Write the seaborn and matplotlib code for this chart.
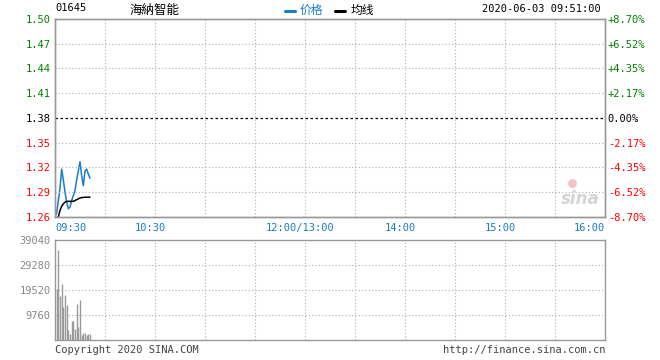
import numpy as np
import seaborn as sns
import matplotlib.pyplot as plt
from matplotlib import transforms

# data (minute index from 09:30)
prev_close = 1.38
price = [1.260, 1.265, 1.280, 1.295, 1.318, 1.305, 1.290, 1.278, 1.270, 1.272, 1.280,
         1.286, 1.292, 1.305, 1.316, 1.327, 1.310, 1.298, 1.316, 1.318, 1.312, 1.307]
avg_price = [1.259, 1.259, 1.260, 1.268, 1.273, 1.276, 1.278, 1.279, 1.279, 1.279, 1.279,
             1.279, 1.280, 1.281, 1.282, 1.283, 1.2835, 1.2837, 1.284, 1.284, 1.284, 1.284]
volume = [19900, 35100, 17200, 21700, 12900, 17600, 13700, 3800, 2300, 7400, 7400,
          4300, 14000, 5200, 15600, 2000, 2700, 2700, 2000, 2300, 2300]
price_ticks = [1.50, 1.47, 1.44, 1.41, 1.38, 1.35, 1.32, 1.29, 1.26]
pct_labels = ['+8.70%', '+6.52%', '+4.35%', '+2.17%', '0.00%', '-2.17%', '-4.35%', '-6.52%', '-8.70%']
vol_ticks = [39040, 29280, 19520, 9760]
time_labels = ['09:30', '10:30', '12:00/13:00', '14:00', '15:00', '16:00']
time_pos = [0, 60, 150, 210, 270, 330]
total_minutes = 330

sns.set_theme(style='white')
plt.rcParams['font.family'] = ['DejaVu Sans Mono']
cjk = ['Noto Sans CJK SC', 'DejaVu Sans']

BLUE = '#1a7cc8'
GREEN = '#008000'
RED = '#ff0000'
GRID = '#b0b0b0'
BORDER = '#999999'
FS = 7.5

fig = plt.figure(figsize=(6.6, 3.6), dpi=100)
ax = fig.add_axes([55/660, (360-217)/360, 550/660, 198/360])
axv = fig.add_axes([55/660, 20/360, 550/660, 100/360])

# watermark behind the lines
ax.text(0.955, 0.09, 'sina', transform=ax.transAxes, fontsize=12, style='italic', weight='bold',
        family=['DejaVu Sans'], color='#d4d4d4', ha='center', va='center', zorder=0)
ax.scatter([0.94], [0.17], transform=ax.transAxes, s=40, color='#f4c0c0', zorder=0, linewidths=0)

minutes = np.arange(len(price))
sns.lineplot(x=minutes, y=price, ax=ax, color=BLUE, linewidth=1.1)
sns.lineplot(x=minutes, y=avg_price, ax=ax, color='black', linewidth=1.1)

ax.set_xlim(0, total_minutes)
ax.set_ylim(price_ticks[-1], price_ticks[0])
grid_x = np.arange(30, total_minutes, 30)
for gx in grid_x:
    ax.axvline(gx, color=GRID, linestyle=(0, (1, 2)), linewidth=0.8)
    axv.axvline(gx, color=GRID, linestyle=(0, (1, 2)), linewidth=0.8)
for p in price_ticks[1:-1]:
    if abs(p - prev_close) < 1e-9:
        ax.axhline(p, color='black', linestyle=(0, (2, 2)), linewidth=0.9)
    else:
        ax.axhline(p, color=GRID, linestyle=(0, (1, 2)), linewidth=0.8)

def price_color(p):
    if abs(p - prev_close) < 1e-9:
        return 'black'
    return GREEN if p > prev_close else RED

ax.set_yticks(price_ticks)
ax.set_yticklabels(['%.2f' % p for p in price_ticks], fontsize=FS)
for lab, p in zip(ax.get_yticklabels(), price_ticks):
    lab.set_color(price_color(p))
ax.set_xticks([])
ax.tick_params(axis='y', length=0, pad=3)

ax2 = ax.twinx()
ax2.set_ylim(ax.get_ylim())
ax2.set_yticks(price_ticks)
ax2.set_yticklabels(pct_labels, fontsize=FS)
for lab, p in zip(ax2.get_yticklabels(), price_ticks):
    lab.set_color(price_color(p))
ax2.tick_params(axis='y', length=0, pad=2)

for a in (ax, ax2, axv):
    for s in a.spines.values():
        s.set_color(BORDER)
        s.set_linewidth(1.0)

# volume bars
vol_x = np.arange(1, len(volume) + 1)
axv.vlines(vol_x, 0, volume, color='#999999', linewidth=1.0)
axv.set_xlim(0, total_minutes)
axv.set_ylim(0, vol_ticks[0])
for v in vol_ticks[1:]:
    axv.axhline(v, color=GRID, linestyle=(0, (1, 2)), linewidth=0.8)
axv.set_yticks(vol_ticks)
axv.set_yticklabels([str(v) for v in vol_ticks], fontsize=FS, color='#888888')
axv.set_xticks([])
axv.tick_params(axis='y', length=0, pad=3)

# time labels under price panel
for lab, pos in zip(time_labels, time_pos):
    if pos == 0:
        ha, dx = 'left', 0
    elif pos == total_minutes:
        ha, dx = 'right', 0
    else:
        ha, dx = 'center', -5
    tr = transforms.offset_copy(ax.get_xaxis_transform(), fig=fig, x=dx, y=0, units='dots')
    ax.text(pos, -0.055, lab, transform=tr, ha=ha, va='center', fontsize=FS, color=BLUE)

# header
fig.text(55/660, 1 - 8/360, '01645', fontsize=FS, color='black', ha='left', va='center')
fig.text(130/660, 1 - 10/360, '海納智能', fontsize=9, family=cjk, color='black', ha='left', va='center')
fig.add_artist(plt.Line2D([285/660, 295/660], [1 - 11/360] * 2, color=BLUE, linewidth=2.2))
fig.text(300/660, 1 - 10/360, '价格', fontsize=8.5, family=cjk, color=BLUE, ha='left', va='center')
fig.add_artist(plt.Line2D([335/660, 345/660], [1 - 11/360] * 2, color='black', linewidth=2.2))
fig.text(351/660, 1 - 10/360, '均线', fontsize=8.5, family=cjk, color='black', ha='left', va='center')
fig.text(601/660, 1 - 9/360, '2020-06-03 09:51:00', fontsize=FS, color='black', ha='right', va='center')

# footer
fig.text(55/660, 1 - 350/360, 'Copyright 2020 SINA.COM', fontsize=FS, color='#444444', ha='left', va='center')
fig.text(605/660, 1 - 350/360, 'http://finance.sina.com.cn', fontsize=FS, color='#444444', ha='right', va='center')

fig.savefig('out.png', dpi=100)
